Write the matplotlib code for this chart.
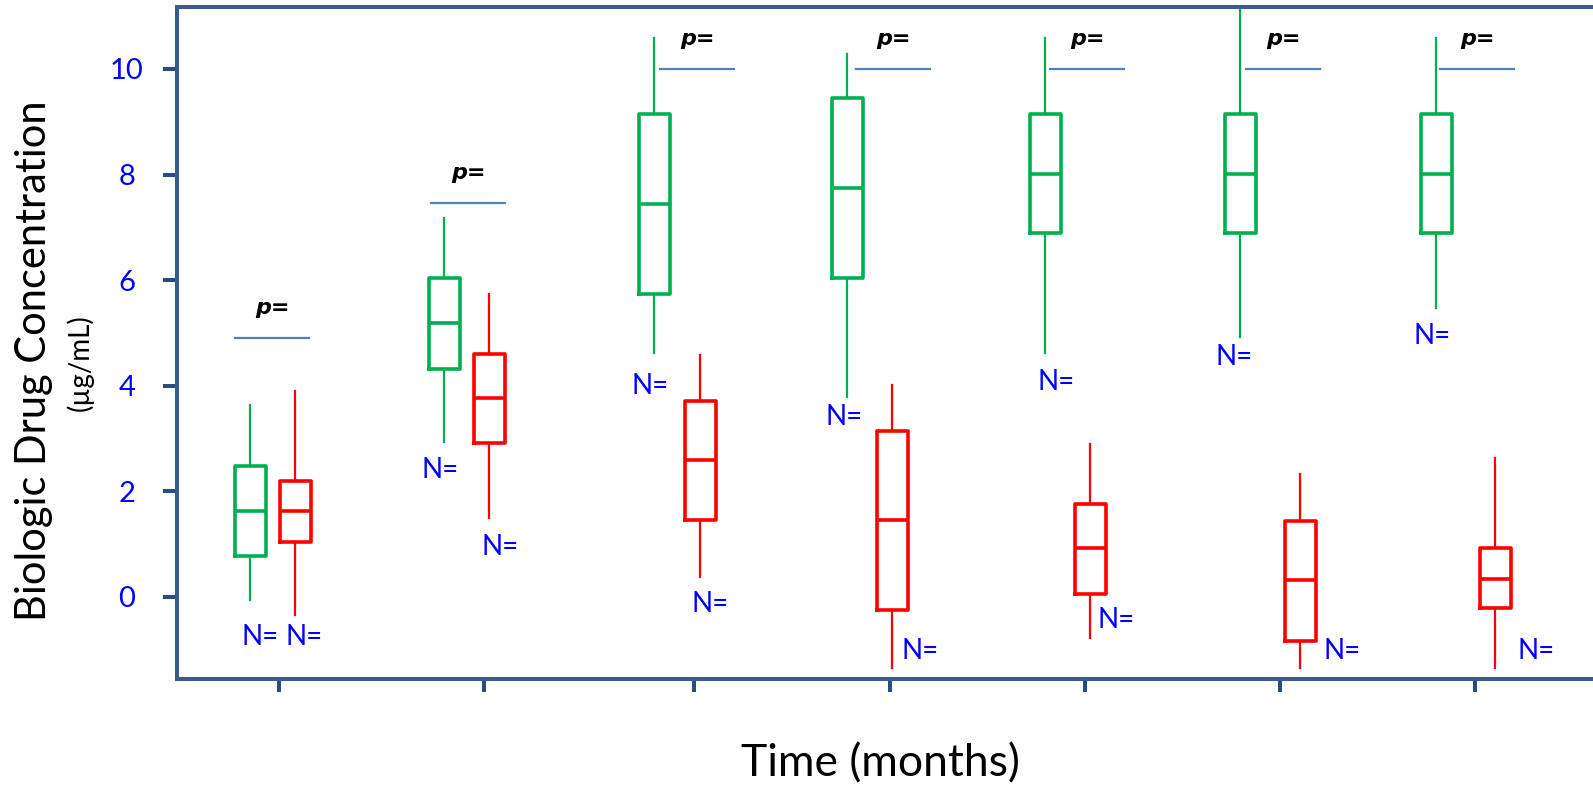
import matplotlib
matplotlib.use("Agg")
import matplotlib.pyplot as plt

plt.rcParams['font.family'] = ['Lato', 'DejaVu Sans']

# box stats per time point: whisker low, q1, median, q3, whisker high
green_lo = [-0.06, 2.93, 4.63, 3.79, 4.63, 4.93, 5.47]
green_q1 = [0.78, 4.32, 5.74, 6.04, 6.89, 6.89, 6.89]
green_med = [1.63, 5.18, 7.44, 7.74, 8.02, 8.02, 8.02]
green_q3 = [2.49, 6.04, 9.15, 9.46, 9.15, 9.15, 9.15]
green_hi = [3.64, 7.17, 10.58, 10.29, 10.58, 11.2, 10.58]

red_lo = [-0.35, 1.50, 0.37, -1.34, -0.77, -1.34, -1.34]
red_q1 = [1.04, 2.91, 1.45, -0.24, 0.06, -0.84, -0.21]
red_med = [1.63, 3.76, 2.59, 1.45, 0.93, 0.32, 0.34]
red_q3 = [2.20, 4.60, 3.72, 3.15, 1.76, 1.44, 0.93]
red_hi = [3.90, 5.74, 4.59, 4.02, 2.90, 2.33, 2.63]

# significance bars (height of bar)
p_level = [4.91, 7.46, 10.0, 10.0, 10.0, 10.0, 10.0]

# layout (x in pixel-like axis units from the left spine)
tick_x = [102, 307, 517, 713, 908, 1103, 1298]
green_x = [73, 267, 477, 670, 868, 1063, 1259]
red_x = [118, 312, 523, 715, 913, 1123, 1318]
p_x = [95, 291, 520, 716, 910, 1106, 1300]
green_n = [(-8, -0.76), (-22, 2.41), (-22, 4.0), (-21, 3.41), (-8, 4.08), (-24, 4.55), (-23, 4.95)]
red_n = [(-9, -0.76), (-7, 0.95), (-8, -0.14), (10, -1.03), (7, -0.44), (23, -1.03), (22, -1.03)]

GREEN = '#00B050'
RED = '#FF0000'
FRAME = '#385D8A'

fig = plt.figure(figsize=(15.93, 7.88), dpi=100)
ax = fig.add_axes([177 / 1593, 109 / 788, 1 - 177 / 1593, 672 / 788])


def stats(lo, q1, med, q3, hi):
    return [dict(whislo=a, q1=b, med=c, q3=d, whishi=e, fliers=[])
            for a, b, c, d, e in zip(lo, q1, med, q3, hi)]


for st, pos, col in [(stats(green_lo, green_q1, green_med, green_q3, green_hi), green_x, GREEN),
                     (stats(red_lo, red_q1, red_med, red_q3, red_hi), red_x, RED)]:
    ax.bxp(st, positions=pos, widths=31, showcaps=False, showfliers=False,
           boxprops=dict(color=col, linewidth=2.6),
           medianprops=dict(color=col, linewidth=2.6),
           whiskerprops=dict(color=col, linewidth=1.6),
           manage_ticks=False)

for px, lvl in zip(p_x, p_level):
    ax.plot([px - 37, px + 37], [lvl, lvl], color='#4F81BD', linewidth=1.6)
    ax.text(px, lvl + 0.57, 'p=', ha='center', va='center', fontsize=16,
            fontweight='bold', fontstyle='italic', family=['DejaVu Sans'])

for xs, offs in [(green_x, green_n), (red_x, red_n)]:
    for x, (dx, y) in zip(xs, offs):
        ax.text(x + dx, y, 'N=', ha='left', va='center', fontsize=20, color='#0000FF')

ax.set_xlim(0, 1416)
ax.set_ylim(-1.553, 11.174)
ax.set_xticks(tick_x)
ax.set_xticklabels([])
ax.set_yticks([0, 2, 4, 6, 8, 10])
ax.tick_params(axis='y', direction='out', length=10, width=2.9, color='#294D7E',
               labelsize=21, labelcolor='#0000FF', pad=26)
for lab in ax.get_yticklabels():
    lab.set_horizontalalignment('center')
ax.tick_params(axis='x', direction='out', length=9.5, width=2.9, color='#294D7E')

for s in ['left', 'top', 'bottom']:
    ax.spines[s].set_color(FRAME)
    ax.spines[s].set_linewidth(2.9)
ax.spines['right'].set_visible(False)

fig.text(34 / 1593, 1 - 361 / 788, 'Biologic Drug Concentration', rotation=90,
         ha='center', va='center', fontsize=30)
fig.text(80 / 1593, 1 - 363 / 788, '(µg/mL)', rotation=90,
         ha='center', va='center', fontsize=20)
fig.text(880 / 1593, 1 - 764 / 788, 'Time (months)', ha='center', va='center', fontsize=32)

fig.savefig('out.png', dpi=100)
